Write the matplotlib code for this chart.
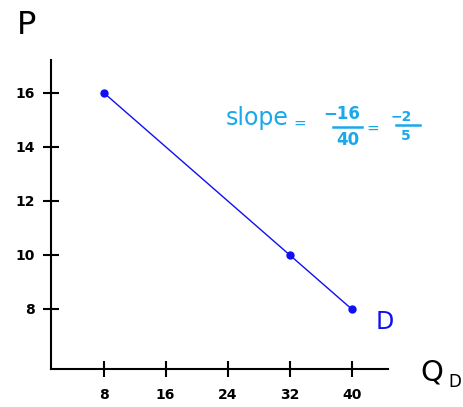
import matplotlib
matplotlib.use("Agg")
import matplotlib.pyplot as plt

quantity = [8, 32, 40]
price = [16, 10, 8]
x_ticks = [8, 16, 24, 32, 40]
y_ticks = [8, 10, 12, 14, 16]

fig = plt.figure(figsize=(4.63, 4.07), dpi=100)
ax = fig.add_axes([0.110, 0.0934, 0.728, 0.760])

blue = "#1010f0"
cyan = "#1aa8e8"

ax.plot(quantity, price, color=blue, lw=1.0, marker="o", ms=5, zorder=3)

ax.set_xlim(1.2, 44.7)
ax.set_ylim(5.78, 17.22)
ax.set_xticks(x_ticks)
ax.set_yticks(y_ticks)
ax.set_xticklabels([str(v) for v in x_ticks], fontsize=10, fontweight="bold")
ax.set_yticklabels([str(v) for v in y_ticks], fontsize=10, fontweight="bold")
ax.tick_params(axis="both", direction="inout", length=11, width=1.5, color="black")
ax.tick_params(axis="x", pad=8)
ax.tick_params(axis="y", pad=6)

for s in ["top", "right"]:
    ax.spines[s].set_visible(False)
for s in ["left", "bottom"]:
    ax.spines[s].set_linewidth(1.5)

# axis labels
fig.text(27 / 463, 1 - 26 / 407, "P", fontsize=23, ha="center", va="center", color="black")
fig.text(432 / 463, 1 - 372 / 407, "Q", fontsize=21, ha="center", va="center", color="black")
fig.text(455 / 463, 1 - 382 / 407, "D", fontsize=12, ha="center", va="center")

# curve label
fig.text(385 / 463, 1 - 322 / 407, "D", fontsize=17, color=blue, ha="center", va="center")

# slope annotation
fig.text(257 / 463, 1 - 118 / 407, "slope", fontsize=17, color=cyan, ha="center", va="center")
fig.text(300 / 463, 1 - 123 / 407, "=", fontsize=11, color=cyan, ha="center", va="center")
fig.text(342 / 463, 1 - 114 / 407, "−16", fontsize=12, color=cyan, ha="center", va="center", fontweight="bold")
fig.add_artist(plt.Line2D([333 / 463, 362 / 463], [1 - 127 / 407, 1 - 127 / 407], color=cyan, lw=1.8))
fig.text(348 / 463, 1 - 140 / 407, "40", fontsize=12, color=cyan, ha="center", va="center", fontweight="bold")
fig.text(373 / 463, 1 - 128 / 407, "=", fontsize=11, color=cyan, ha="center", va="center")
fig.text(401 / 463, 1 - 117 / 407, "−2", fontsize=10, color=cyan, ha="center", va="center", fontweight="bold")
fig.add_artist(plt.Line2D([396 / 463, 420 / 463], [1 - 125 / 407, 1 - 125 / 407], color=cyan, lw=1.8))
fig.text(406 / 463, 1 - 136 / 407, "5", fontsize=10, color=cyan, ha="center", va="center", fontweight="bold")

fig.savefig("out.png", dpi=100)
